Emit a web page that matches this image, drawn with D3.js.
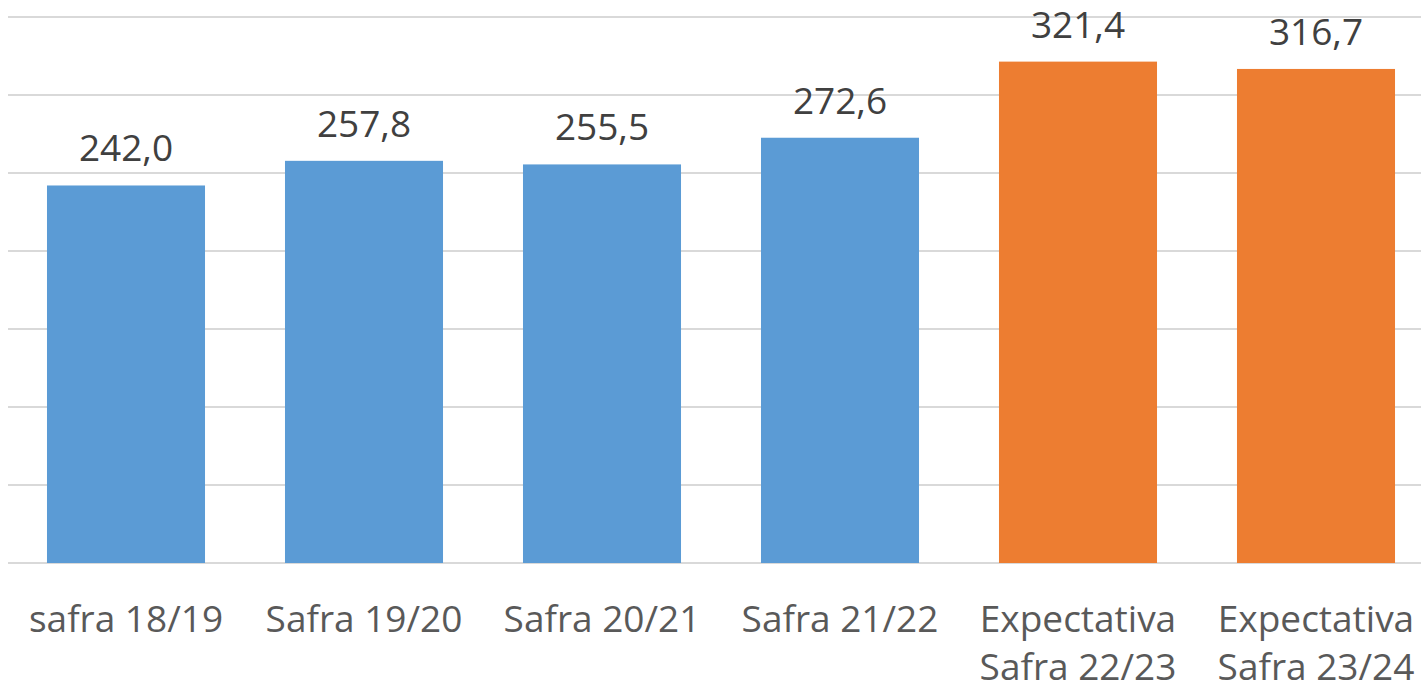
<!DOCTYPE html>
<html>
<head>
<meta charset="utf-8">
<script src="https://cdn.jsdelivr.net/npm/d3@7"></script>
<style>
  html, body { margin: 0; padding: 0; background: #fff; }
  svg { display: block; }
</style>
</head>
<body>
<svg id="chart" width="1421" height="686"></svg>
<script>
const categories = [
  ["safra 18/19"],
  ["Safra 19/20"],
  ["Safra 20/21"],
  ["Safra 21/22"],
  ["Expectativa", "Safra 22/23"],
  ["Expectativa", "Safra 23/24"]
];
const values = [242.0, 257.8, 255.5, 272.6, 321.4, 316.7];
const colors = ["#5B9BD5", "#5B9BD5", "#5B9BD5", "#5B9BD5", "#ED7D31", "#ED7D31"];
const yTicks = [0, 50, 100, 150, 200, 250, 300, 350];

const svg = d3.select("#chart");
const fontFamily = "'Open Sans', 'DejaVu Sans', sans-serif";

const x = d3.scaleBand()
  .domain(d3.range(values.length))
  .range([7, 1435])
  .paddingInner(0.336)
  .paddingOuter(0.168);

const y = d3.scaleLinear()
  .domain([0, 350])
  .range([563, 17]);

// gridlines
svg.append("g")
  .selectAll("line")
  .data(yTicks)
  .join("line")
  .attr("x1", 8)
  .attr("x2", 1421)
  .attr("y1", d => y(d))
  .attr("y2", d => y(d))
  .attr("stroke", "#D9D9D9")
  .attr("stroke-width", 1.8);

// bars
svg.append("g")
  .selectAll("rect")
  .data(values)
  .join("rect")
  .attr("x", (d, i) => x(i))
  .attr("width", x.bandwidth())
  .attr("y", d => y(d))
  .attr("height", d => y(0) - y(d))
  .attr("fill", (d, i) => colors[i]);

// value labels
svg.append("g")
  .selectAll("text")
  .data(values)
  .join("text")
  .attr("x", (d, i) => x(i) + x.bandwidth() / 2)
  .attr("y", d => y(d) - 24)
  .attr("text-anchor", "middle")
  .attr("font-family", fontFamily)
  .attr("font-size", 37)
  .attr("fill", "#404040")
  .text(d => d.toFixed(1).replace(".", ","));

// category labels
const cat = svg.append("g")
  .selectAll("text")
  .data(categories)
  .join("text")
  .attr("x", (d, i) => x(i) + x.bandwidth() / 2)
  .attr("y", 632)
  .attr("text-anchor", "middle")
  .attr("font-family", fontFamily)
  .attr("font-size", 37)
  .attr("fill", "#595959");

cat.selectAll("tspan")
  .data(d => d)
  .join("tspan")
  .attr("x", function() { return d3.select(this.parentNode).attr("x"); })
  .attr("dy", (d, j) => j === 0 ? 0 : 48)
  .text(d => d);
</script>
</body>
</html>
